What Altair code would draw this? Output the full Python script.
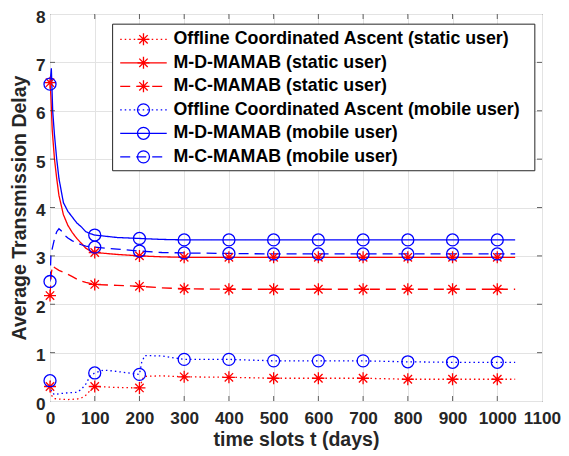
import altair as alt
import pandas as pd

# ---------------- data ----------------
series = [
    "Offline Coordinated Ascent (static user)",
    "M-D-MAMAB (static user)",
    "M-C-MAMAB (static user)",
    "Offline Coordinated Ascent (mobile user)",
    "M-D-MAMAB (mobile user)",
    "M-C-MAMAB (mobile user)",
]

tail_t = [300, 400, 500, 600, 700, 800, 900, 1000, 1040]

oca_static_t = [0, 3, 10, 20, 40, 60, 70, 80, 90, 100, 150, 200, 205, 210, 250] + tail_t
oca_static_v = [0.30, 0.12, 0.05, 0.04, 0.03, 0.04, 0.06, 0.12, 0.22, 0.30, 0.28, 0.27, 0.40, 0.51, 0.52,
                0.50, 0.49, 0.47, 0.47, 0.47, 0.45, 0.45, 0.45, 0.45]

mdm_static_t = [0, 2, 5, 10, 15, 20, 30, 40, 50, 60, 70, 80, 90, 100, 150, 200, 250] + tail_t
mdm_static_v = [6.58, 6.30, 5.60, 5.00, 4.60, 4.25, 3.85, 3.63, 3.48, 3.36, 3.26, 3.16, 3.10, 3.07, 3.03, 3.00, 2.98,
                2.97, 2.97, 2.97, 2.97, 2.97, 2.97, 2.97, 2.97, 2.97]

mcm_static_t = [0, 3, 6, 10, 20, 30, 40, 50, 60, 70, 80, 90, 100, 150, 200, 250] + tail_t
mcm_static_v = [2.18, 2.65, 2.80, 2.76, 2.70, 2.66, 2.62, 2.57, 2.52, 2.48, 2.45, 2.43, 2.41, 2.39, 2.37, 2.34,
                2.32, 2.31, 2.31, 2.31, 2.31, 2.31, 2.31, 2.31, 2.31]

oca_mobile_t = [0, 3, 10, 20, 40, 60, 70, 80, 90, 100, 120, 150, 200, 205, 212, 250] + tail_t
oca_mobile_v = [0.42, 0.20, 0.13, 0.15, 0.17, 0.18, 0.24, 0.35, 0.52, 0.58, 0.64, 0.61, 0.55, 0.80, 0.94, 0.93,
                0.86, 0.86, 0.83, 0.83, 0.83, 0.81, 0.80, 0.80, 0.80]

mdm_mobile_t = [0, 3, 6, 10, 15, 20, 30, 40, 50, 60, 70, 80, 90, 100, 150, 200, 250] + tail_t
mdm_mobile_v = [6.55, 6.88, 6.00, 5.50, 5.00, 4.60, 4.10, 3.92, 3.80, 3.68, 3.60, 3.50, 3.46, 3.43, 3.38, 3.36, 3.34,
                3.33, 3.33, 3.33, 3.33, 3.33, 3.33, 3.33, 3.33, 3.33]

mcm_mobile_t = [0, 2, 5, 10, 15, 20, 25, 30, 40, 50, 60, 70, 80, 90, 100, 150, 200, 250] + tail_t
mcm_mobile_v = [2.47, 3.00, 3.15, 3.35, 3.50, 3.56, 3.52, 3.45, 3.37, 3.31, 3.27, 3.23, 3.20, 3.19, 3.18, 3.14, 3.10, 3.07,
                3.06, 3.05, 3.04, 3.04, 3.04, 3.04, 3.04, 3.04, 3.04]

x_ticks = [0, 100, 200, 300, 400, 500, 600, 700, 800, 900, 1000, 1100]
y_ticks = [0, 1, 2, 3, 4, 5, 6, 7, 8]

# ---------------- styling ----------------
colors = ["#ff0000", "#ff0000", "#ff0000", "#0000ff", "#0000ff", "#0000ff"]
dashes = [[1.5, 3], [1, 0], [10, 6], [1.5, 3], [1, 0], [10, 6]]
asterisk = "M-1,0L1,0M0,-1L0,1M-0.7,-0.7L0.7,0.7M-0.7,0.7L0.7,-0.7"
shapes = [asterisk, asterisk, asterisk, "circle", "circle", "circle"]
sizes = [144, 144, 144, 100, 100, 100]
FONT = "Liberation Sans"
AX = "#262626"

# legend layout (in data units)
LEG_BOX = dict(t0=140, t1=1084, v0=4.76, v1=7.79)
LEG_Y0, LEG_DY = 7.477, 0.486
LEG_LINE = (157, 261)
LEG_MARK = 209
LEG_TEXT = 276

# ---------------- build tables ----------------
all_t = [oca_static_t, mdm_static_t, mcm_static_t, oca_mobile_t, mdm_mobile_t, mcm_mobile_t]
all_v = [oca_static_v, mdm_static_v, mcm_static_v, oca_mobile_v, mdm_mobile_v, mcm_mobile_v]
rows = []
for name, ts, vs in zip(series, all_t, all_v):
    for t, v in zip(ts, vs):
        rows.append({"series": name, "t": t, "v": v})
df = pd.DataFrame(rows)

leg = pd.DataFrame({
    "series": series,
    "v": [LEG_Y0 - i * LEG_DY for i in range(len(series))],
    "t": [LEG_MARK] * len(series),
    "t0": [LEG_LINE[0]] * len(series),
    "t1": [LEG_LINE[1]] * len(series),
    "tt": [LEG_TEXT] * len(series),
})
box = pd.DataFrame([LEG_BOX])

xscale = alt.Scale(domain=[0, 1100], nice=False, zero=False)
yscale = alt.Scale(domain=[0, 8], nice=False)
x_axis = alt.Axis(values=x_ticks, title="time slots t (days)", labelBaseline="alphabetic",
                  labelPadding=22, labelOverlap=False, labelFlush=False,
                  titleBaseline="alphabetic", titleY=44, format="d")
y_axis = alt.Axis(values=y_ticks, title="Average Transmission Delay", labelPadding=5,
                  labelOffset=3, labelOverlap=False, labelFlush=False,
                  titleX=-25, titleY=193.5, titleBaseline="alphabetic", format="d")


def X(field):
    return alt.X(field, type="quantitative", scale=xscale, axis=x_axis)


def Y(field):
    return alt.Y(field, type="quantitative", scale=yscale, axis=y_axis)


color = alt.Color("series:N", scale=alt.Scale(domain=series, range=colors), legend=None)
dash = alt.StrokeDash("series:N", scale=alt.Scale(domain=series, range=dashes), legend=None)
shape = alt.Shape("series:N", scale=alt.Scale(domain=series, range=shapes), legend=None)
size = alt.Size("series:N", scale=alt.Scale(domain=series, range=sizes), legend=None)

lines = alt.Chart(df).mark_line(strokeWidth=1.3, clip=True).encode(
    x=X("t"), y=Y("v"), color=color, strokeDash=dash)

points = alt.Chart(df).transform_filter(
    "datum.t % 100 == 0 && datum.t <= 1000"
).mark_point(filled=False, strokeWidth=1.3, opacity=1).encode(
    x=X("t"), y=Y("v"), color=color, shape=shape, size=size)

# inward tick marks (MATLAB box style)
xt = pd.DataFrame({"t": x_ticks[1:-1]})
yt = pd.DataFrame({"v": y_ticks[1:-1]})
tick_b = alt.Chart(xt).mark_tick(orient="vertical", size=5, thickness=1, color=AX, yOffset=-2.5).encode(
    x=X("t"), y=alt.datum(0))
tick_t = alt.Chart(xt).mark_tick(orient="vertical", size=5, thickness=1, color=AX, yOffset=2.5).encode(
    x=X("t"), y=alt.datum(8))
tick_l = alt.Chart(yt).mark_tick(orient="horizontal", size=5, thickness=1, color=AX, xOffset=2.5).encode(
    y=Y("v"), x=alt.datum(0))
tick_r = alt.Chart(yt).mark_tick(orient="horizontal", size=5, thickness=1, color=AX, xOffset=-2.5).encode(
    y=Y("v"), x=alt.datum(1100))

legend_box = alt.Chart(box).mark_rect(fill="white", stroke=AX, strokeWidth=1).encode(
    x=X("t0"), x2="t1", y=Y("v0"), y2="v1")
legend_lines = alt.Chart(leg).mark_rule(strokeWidth=1.3).encode(
    x=X("t0"), x2="t1", y=Y("v"), color=color, strokeDash=dash)
legend_marks = alt.Chart(leg).mark_point(filled=False, strokeWidth=1.3, opacity=1).encode(
    x=X("t"), y=Y("v"), color=color, shape=shape, size=size)
legend_text = alt.Chart(leg).mark_text(align="left", baseline="middle", font=FONT, fontWeight="bold",
                                       fontSize=17.8, color="black").encode(
    x=X("tt"), y=Y("v"), text="series:N")

chart = alt.layer(
    lines, points, tick_b, tick_t, tick_l, tick_r,
    legend_box, legend_lines, legend_marks, legend_text
).properties(
    width=492, height=387,
    autosize=alt.AutoSizeParams(type="none"),
    padding={"left": 42, "top": 6, "right": 19, "bottom": 49},
    background="white",
).configure_axis(
    grid=True, gridColor="#e3e3e3", gridWidth=1, domain=False, ticks=False,
    labelFont=FONT, labelFontWeight="bold", labelFontSize=17.2, labelColor=AX,
    titleFont=FONT, titleFontWeight="bold", titleFontSize=19.5, titleColor=AX,
).configure_view(stroke=AX, strokeWidth=1)

chart.save("out.html", embed_options={"renderer": "svg", "actions": False})
